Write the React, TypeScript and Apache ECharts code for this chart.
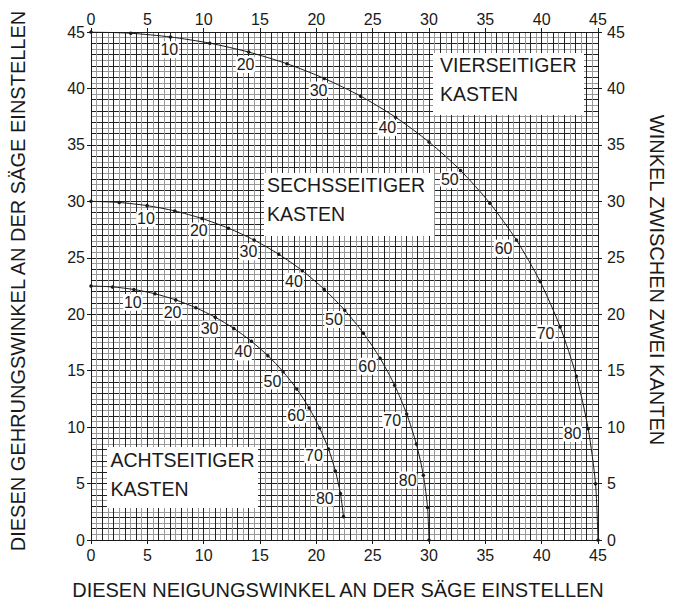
import React, { useEffect, useRef } from "react";
import * as echarts from "echarts";

// Slope angle of the box sides (degrees), one dot every 5°
const slopeAngles = [0, 5, 10, 15, 20, 25, 30, 35, 40, 45, 50, 55, 60, 65, 70, 75, 80, 85, 90];
const labeledSlopes = [10, 20, 30, 40, 50, 60, 70, 80];

// Four-sided box (VIERSEITIGER KASTEN)
const bevel4 = [0, 3.53, 7.05, 10.55, 14.0, 17.39, 20.7, 23.93, 27.03, 30.0, 32.8, 35.4, 37.76, 39.86, 41.64, 43.08, 44.13, 44.78, 45];
const miter4 = [45, 44.89, 44.56, 44.01, 43.22, 42.19, 40.89, 39.32, 37.45, 35.26, 32.74, 29.84, 26.57, 22.91, 18.88, 14.51, 9.85, 4.98, 0];

// Six-sided box (SECHSSEITIGER KASTEN)
const bevel6 = [0, 2.5, 4.98, 7.44, 9.85, 12.2, 14.48, 16.67, 18.75, 20.7, 22.52, 24.18, 25.66, 26.95, 28.02, 28.88, 29.5, 29.87, 30];
const miter6 = [30, 29.9, 29.62, 29.15, 28.48, 27.62, 26.57, 25.31, 23.86, 22.21, 20.36, 18.32, 16.1, 13.71, 11.17, 8.5, 5.73, 2.88, 0];

// Eight-sided box (ACHTSEITIGER KASTEN), ends at 85°
const bevel8 = [0, 1.91, 3.81, 5.68, 7.52, 9.31, 11.03, 12.68, 14.24, 15.7, 17.05, 18.27, 19.36, 20.29, 21.08, 21.69, 22.14, 22.41];
const miter8 = [22.5, 22.42, 22.19, 21.81, 21.27, 20.57, 19.73, 18.74, 17.6, 16.33, 14.91, 13.37, 11.7, 9.93, 8.06, 6.12, 4.11, 2.07];

const axisMin = 0;
const axisMax = 45;
const axisStep = 5;

const xTitle = "DIESEN NEIGUNGSWINKEL AN DER SÄGE EINSTELLEN";
const yTitle = "DIESEN GEHRUNGSWINKEL AN DER SÄGE EINSTELLEN";
const y2Title = "WINKEL ZWISCHEN ZWEI KANTEN";
const boxTitles = [
  ["VIERSEITIGER", "KASTEN"],
  ["SECHSSEITIGER", "KASTEN"],
  ["ACHTSEITIGER", "KASTEN"],
];

const FONT = '"Liberation Sans", Arial, sans-serif';
const INK = "#1a1a1a";
const NUM_SIZE = 16;

function labelOffset(s: number): [number, number] {
  const r = (s * Math.PI) / 180;
  const dx = -16 * Math.pow(Math.sin(r), 1.5);
  const dy = 3 + 10 * Math.cos(r);
  return [dx, dy];
}

function makeSeries(name: string, bev: number[], mit: number[]) {
  return {
    type: "line",
    name,
    xAxisIndex: 0,
    yAxisIndex: 0,
    smooth: 0.25,
    symbol: "circle",
    symbolSize: 3.5,
    showAllSymbol: true,
    lineStyle: { color: INK, width: 1 },
    itemStyle: { color: INK },
    z: 5,
    data: bev.map((b, i) => {
      const s = slopeAngles[i];
      const show = labeledSlopes.includes(s);
      return {
        value: [b, mit[i]],
        label: show
          ? {
              show: true,
              position: "inside",
              formatter: String(s),
              offset: labelOffset(s),
              fontFamily: FONT,
              fontSize: NUM_SIZE,
              color: INK,
              backgroundColor: "#fff",
              padding: [1, 1, 0, 1],
              borderRadius: 4,
            }
          : { show: false },
      };
    }),
  };
}

function mainAxis(position: string, margin: number) {
  return {
    type: "value",
    position,
    min: axisMin,
    max: axisMax,
    interval: axisStep,
    gridIndex: 0,
    axisLine: { show: true, onZero: false, lineStyle: { color: INK, width: 1 } },
    axisTick: { show: true, inside: false, length: 4, lineStyle: { color: INK, width: 1 } },
    axisLabel: { show: true, fontFamily: FONT, fontSize: NUM_SIZE, color: INK, margin },
    splitLine: { show: false },
    z: 3,
  };
}

function gridAxis(position: string) {
  return {
    type: "value",
    position,
    min: axisMin,
    max: axisMax,
    interval: 1,
    axisLine: { show: false },
    axisTick: { show: false },
    axisLabel: { show: false },
    minorTick: { show: false, splitNumber: 2 },
    splitLine: { show: true, lineStyle: { color: "#222", width: 1 } },
    minorSplitLine: { show: true, lineStyle: { color: "#999", width: 1 } },
    z: 0,
  };
}

function boxGraphic(x: number, y: number, w: number, h: number, lines: string[], tx: number, ty1: number, ty2: number) {
  return [
    { type: "rect", z: 100, shape: { x, y, width: w, height: h }, style: { fill: "#fff" } },
    {
      type: "text", z: 101, x: tx, y: ty1,
      style: { text: lines[0], font: `19.5px ${FONT}`, fill: INK, align: "left", verticalAlign: "middle" },
    },
    {
      type: "text", z: 101, x: tx, y: ty2,
      style: { text: lines[1], font: `19.5px ${FONT}`, fill: INK, align: "left", verticalAlign: "middle" },
    },
  ];
}

export default function App() {
  const ref = useRef<HTMLDivElement>(null);
  useEffect(() => {
    if (!ref.current) return;
    const chart = echarts.init(ref.current, null, { renderer: "svg" });
    chart.setOption({
      animation: false,
      backgroundColor: "#fff",
      grid: { left: 91, top: 32, width: 507, height: 508, containLabel: false },
      xAxis: [mainAxis("bottom", 7), mainAxis("top", 5), gridAxis("bottom")],
      yAxis: [mainAxis("left", 6), mainAxis("right", 9), gridAxis("left")],
      series: [
        makeSeries("VIERSEITIGER KASTEN", bevel4, miter4),
        makeSeries("SECHSSEITIGER KASTEN", bevel6, miter6),
        makeSeries("ACHTSEITIGER KASTEN", bevel8, miter8),
      ],
      graphic: [
        ...boxGraphic(433, 53, 151, 62, boxTitles[0], 440, 64.5, 94),
        ...boxGraphic(264, 173, 170, 63, boxTitles[1], 267, 184.5, 214),
        ...boxGraphic(107, 447, 151, 61, boxTitles[2], 110.5, 459.5, 489),
        {
          type: "text", z: 101, x: 338, y: 590,
          style: { text: xTitle, font: `20px ${FONT}`, fill: INK, align: "center", verticalAlign: "middle" },
        },
        {
          type: "text", z: 101, x: 18, y: 281, rotation: Math.PI / 2,
          style: { text: yTitle, font: `20px ${FONT}`, fill: INK, align: "center", verticalAlign: "middle" },
        },
        {
          type: "text", z: 101, x: 657, y: 280, rotation: -Math.PI / 2,
          style: { text: y2Title, font: `20px ${FONT}`, fill: INK, align: "center", verticalAlign: "middle" },
        },
      ],
    });
    return () => chart.dispose();
  }, []);
  return (
    <div
      ref={ref}
      style={{ position: "fixed", left: 0, top: 0, width: 673, height: 601, background: "#fff" }}
    />
  );
}
